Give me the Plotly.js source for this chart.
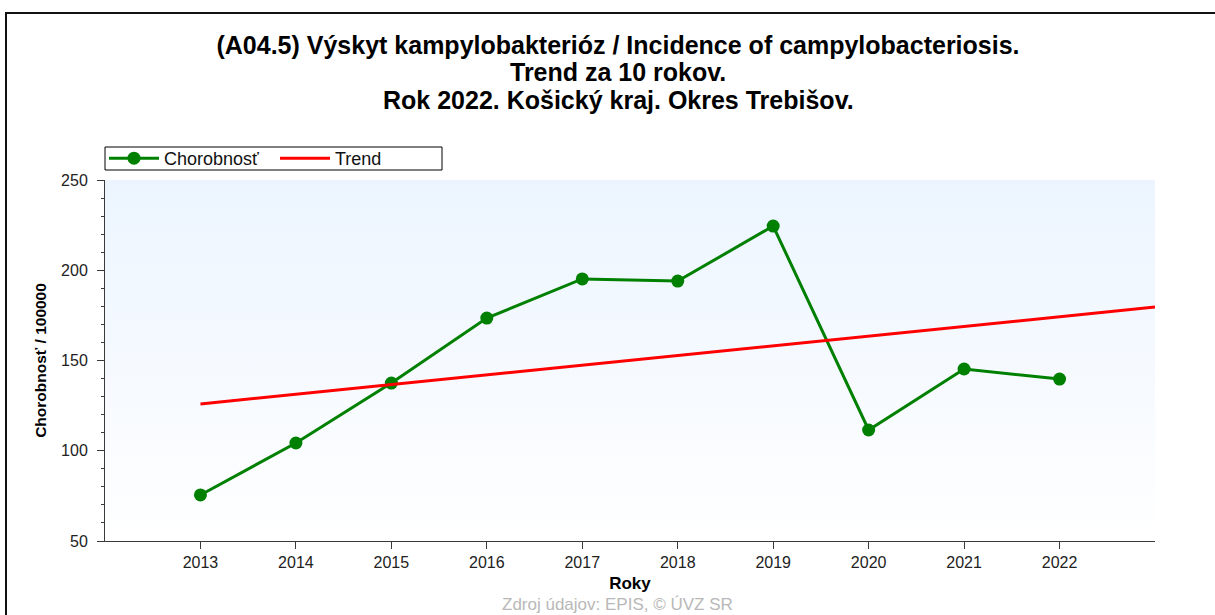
<!DOCTYPE html>
<html>
<head>
<meta charset="utf-8">
<script src="https://cdn.plot.ly/plotly-3.0.1.min.js"></script>
<style>
  html, body { margin: 0; padding: 0; background: #ffffff; }
  #wrap { position: relative; width: 1215px; height: 615px; overflow: hidden; }
  #bg { position: absolute; left: 105px; top: 180px; width: 1050px; height: 361px;
        background: linear-gradient(to bottom, #ecf5ff 0%, #f6faff 55%, #ffffff 100%); }
  #frame { position: absolute; left: 5px; top: 12px; width: 1300px; height: 700px;
           border-left: 2px solid #111; border-top: 2px solid #111; }
  #chart { position: absolute; left: 0; top: 0; width: 1215px; height: 615px; }
</style>
</head>
<body>
<div id="wrap">
  <div id="bg"></div>
  <div id="frame"></div>
  <div id="chart"></div>
</div>
<script>
// ---- data ----
const years = [2013, 2014, 2015, 2016, 2017, 2018, 2019, 2020, 2021, 2022];
const incidence = [75.5, 104.3, 137.5, 173.5, 195.2, 194.0, 224.5, 111.5, 145.3, 139.7];
const trendYears = [2013, 2023];
const trendValues = [125.9, 179.6];
const yTicks = [50, 100, 150, 200, 250];
const xTickLabels = ['2013', '2014', '2015', '2016', '2017', '2018', '2019', '2020', '2021', '2022'];
const titleLines = [
  '(A04.5) Výskyt kampylobakterióz / Incidence of campylobacteriosis.',
  'Trend za 10 rokov.',
  'Rok 2022. Košický kraj. Okres Trebišov.'
];

const FONT = 'Liberation Sans, Arial, sans-serif';
const AX = '#3a3a3a';

// pixel helpers for the plot area (l=105, r=60, t=180, b=74)
const PL = 105, PW = 1050, PB = 541, PH = 361;
const px = (x) => (x - PL) / PW;
const py = (y) => (PB - y) / PH;

const traces = [
  {
    x: years, y: incidence, name: 'Chorobnosť', type: 'scatter', mode: 'lines+markers',
    line: { color: '#008000', width: 3 },
    marker: { color: '#008000', size: 13, symbol: 'circle' }
  },
  {
    x: trendYears, y: trendValues, name: 'Trend', type: 'scatter', mode: 'lines',
    line: { color: '#ff0000', width: 3 }
  }
];

const xRange = [2012, 2023];
const yRange = [50, 250];

const titleFont = { family: FONT, size: 25, color: '#000', weight: 'bold' };

const layout = {
  width: 1215, height: 615,
  margin: { l: 105, r: 60, t: 180, b: 74 },
  paper_bgcolor: 'rgba(0,0,0,0)',
  plot_bgcolor: 'rgba(0,0,0,0)',
  font: { family: FONT, size: 16, color: '#222' },
  title: {
    text: titleLines[0],
    font: titleFont,
    x: px(618), xanchor: 'center', xref: 'paper',
    y: 1 - 45 / 615, yanchor: 'middle', yref: 'container'
  },
  showlegend: true,
  legend: {
    orientation: 'h', x: px(104), xanchor: 'left', y: py(158.5), yanchor: 'middle',
    borderwidth: 0, bgcolor: 'rgba(0,0,0,0)',
    font: { family: FONT, size: 18, color: '#111' },
    entrywidth: 106, entrywidthmode: 'pixels',
    itemwidth: 50, tracegroupgap: 0
  },
  xaxis: {
    range: xRange, tickmode: 'array', tickvals: years, ticktext: xTickLabels,
    ticks: 'outside', ticklen: 7, tickcolor: AX, tickwidth: 1,
    showline: true, linecolor: AX, linewidth: 1, showgrid: false, zeroline: false,
    tickfont: { family: FONT, size: 16, color: '#222' },
    title: { text: 'Roky', font: { family: FONT, size: 17, color: '#000', weight: 'bold' }, standoff: 6 }
  },
  xaxis2: {
    range: xRange, overlaying: 'x', anchor: 'y', side: 'bottom',
    tickmode: 'array', tickvals: years, ticks: 'inside', ticklen: 6, tickcolor: AX,
    showticklabels: false, showline: false, showgrid: false, zeroline: false
  },
  xaxis3: {
    range: xRange, overlaying: 'x', anchor: 'y', side: 'top',
    tickmode: 'array', tickvals: years, ticks: 'inside', ticklen: 6, tickcolor: AX,
    showticklabels: false, showline: true, linecolor: AX, linewidth: 1, showgrid: false, zeroline: false
  },
  yaxis: {
    range: yRange, tickmode: 'array', tickvals: yTicks,
    ticks: 'outside', ticklen: 7, tickcolor: AX, tickwidth: 1,
    minor: { dtick: 10, ticks: 'outside', ticklen: 3, tickcolor: AX, showgrid: false },
    showline: true, linecolor: AX, linewidth: 1, showgrid: false, zeroline: false,
    ticklabelstandoff: 6,
    tickfont: { family: FONT, size: 16, color: '#222' },
    title: { text: 'Chorobnosť / 100000', font: { family: FONT, size: 15.5, color: '#000', weight: 'bold' }, standoff: 10 }
  },
  yaxis3: {
    range: yRange, overlaying: 'y', anchor: 'x', side: 'left',
    tickmode: 'array', tickvals: yTicks, ticks: 'inside', ticklen: 6, tickcolor: AX,
    minor: { dtick: 10, ticks: 'inside', ticklen: 3, tickcolor: AX, showgrid: false },
    showticklabels: false, showline: false, showgrid: false, zeroline: false
  },
  yaxis2: {
    range: yRange, overlaying: 'y', anchor: 'x', side: 'right',
    tickmode: 'array', tickvals: yTicks,
    ticks: 'outside', ticklen: 7, tickcolor: AX, tickwidth: 1,
    minor: { dtick: 10, ticks: 'outside', ticklen: 3, tickcolor: AX, showgrid: false },
    showline: true, linecolor: AX, linewidth: 1, showgrid: false, zeroline: false,
    ticklabelstandoff: 4,
    tickfont: { family: FONT, size: 16, color: '#222' }
  },
  yaxis4: {
    range: yRange, overlaying: 'y', anchor: 'x', side: 'right',
    tickmode: 'array', tickvals: yTicks, ticks: 'inside', ticklen: 6, tickcolor: AX,
    minor: { dtick: 10, ticks: 'inside', ticklen: 3, tickcolor: AX, showgrid: false },
    showticklabels: false, showline: false, showgrid: false, zeroline: false
  },
  shapes: [
    {
      type: 'rect', xref: 'paper', yref: 'paper', layer: 'below',
      x0: px(105), x1: px(442), y0: py(170), y1: py(147),
      line: { color: '#000', width: 1 }, fillcolor: '#ffffff'
    }
  ],
  annotations: [
    {
      text: titleLines[1], xref: 'paper', yref: 'paper', x: px(618), xanchor: 'center',
      y: py(72), yanchor: 'middle', showarrow: false, font: titleFont
    },
    {
      text: titleLines[2], xref: 'paper', yref: 'paper', x: px(618), xanchor: 'center',
      y: py(100), yanchor: 'middle', showarrow: false, font: titleFont
    },
    {
      text: 'Zdroj údajov: EPIS, © ÚVZ SR', xref: 'paper', yref: 'paper',
      x: px(617), xanchor: 'center',
      y: py(604), yanchor: 'middle', showarrow: false,
      font: { family: FONT, size: 17, color: '#b8b8b8' }
    }
  ]
};

Plotly.newPlot('chart', traces, layout, { displayModeBar: false, staticPlot: true });
</script>
</body>
</html>
